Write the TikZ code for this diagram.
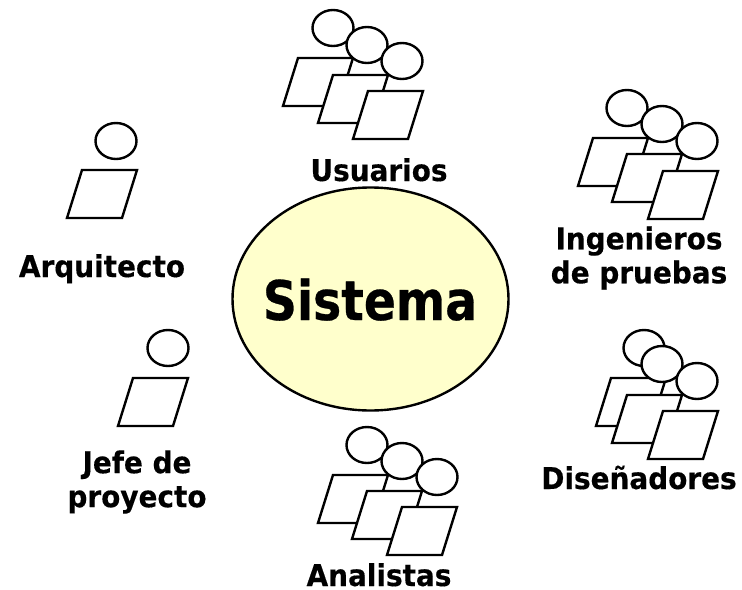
\documentclass[tikz,border=0pt]{standalone}
\usepackage{fontspec}
\setmainfont[FakeStretch=0.93,FakeBold=0.35]{DejaVu Sans Bold}
\newfontfamily\sysfont[FakeStretch=0.865,FakeBold=0.5]{DejaVu Sans Bold}
\definecolor{sysfill}{HTML}{FFFFCC}
\tikzset{
	person/.style = {draw, fill=white, line width=1.8pt, line join=miter},
	rolename/.style = {align=center, inner sep=0, font=\fontsize{22.5}{25.5}\selectfont},
}
% body: top left corner at (#1,#2), head up and to the right of it
\newcommand{\actor}[2]{
	\draw[person] (#1,#2) -- ++(55,0) -- ++(-15,48) -- ++(-55,0) -- cycle;
}
\newcommand{\head}[2]{
	\draw[person] (#1,#2) ellipse [x radius=20.5, y radius=18];
}
\begin{document}
\begin{tikzpicture}[
		x = 0.75pt,
		y = -0.75pt
	]

	\useasboundingbox (0,0) rectangle (742,589);

	\draw[fill=sysfill, line width=1.8pt] (370.5,299) ellipse [x radius=138, y radius=111.5];
	\node[inner sep=0, anchor=base, font=\sysfont\fontsize{41}{45}\selectfont] (sistema) at (370,320) {Sistema};

	% groups of three: body x, body y, head x, head y
	\foreach \bx/\by/\hx/\hy in {
		298/58/333/28, 333/75/367/45, 368/91/402/61,
		593/138/627/108, 627/154/662/124, 663/171/697/141,
		611/378/644/348, 627/395/662/364, 663/411/697/381,
		333/475/367/445, 367/491/402/461, 402/507/437/477,
		82/170/116/141,
		133/378/168/348}{
		\actor{\bx}{\by}
		\head{\hx}{\hy}
	}

	\node[rolename, anchor=base] (usuarios) at (379,181) {Usuarios};
	\node[rolename] (ingenieros) at (639,258) {Ingenieros\\de pruebas};
	\node[rolename, anchor=base] (disenadores) at (639,489) {Diseñadores};
	\node[rolename, anchor=base] (analistas) at (379,586) {Analistas};
	\node[rolename] (jefe) at (137,482) {Jefe de\\proyecto};
	\node[rolename, anchor=base] (arquitecto) at (102,277) {Arquitecto};

\end{tikzpicture}
\end{document}
